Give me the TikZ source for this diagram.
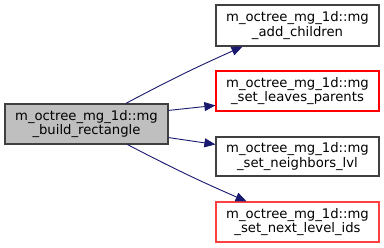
\documentclass[tikz,border=0pt]{standalone}
\usepackage{fontspec}
\setmainfont{DejaVu Sans}
\usetikzlibrary{arrows.meta,calc}
\definecolor{edgeblue}{HTML}{191970}
\definecolor{boxgray}{HTML}{BFBFBF}
\definecolor{boxborder}{HTML}{404040}
\definecolor{lightred}{HTML}{FF4040}
\tikzset{
  fn/.style={draw=boxborder, line width=1.2pt, minimum width=163pt, minimum height=40pt,
    align=center, inner sep=0pt, font=\fontsize{13.2}{14.5}\selectfont},
  curfn/.style={fn, fill=boxgray},
  redfn/.style={fn, draw=red},
  call/.style={draw=edgeblue, line width=0.9pt, -{Triangle[length=11pt,width=9pt]}}
}
\begin{document}
\begin{tikzpicture}[x=1pt,y=-1pt]
\useasboundingbox (0,0) rectangle (384,248);
\node[curfn] (L) at (86.5,124) {m\_octree\_mg\_1d::mg\\\_build\_rectangle};
\node[fn, minimum height=41pt] (A) at (297.5,25.5) {m\_octree\_mg\_1d::mg\\\_add\_children};
\node[redfn] (B) at (297.5,91) {m\_octree\_mg\_1d::mg\\\_set\_leaves\_parents};
\node[fn, minimum height=39pt] (C) at (297.5,156.5) {m\_octree\_mg\_1d::mg\\\_set\_neighbors\_lvl};
\node[redfn, draw=lightred] (D) at (297.5,222) {m\_octree\_mg\_1d::mg\\\_set\_next\_level\_ids};
\coordinate (la) at ($(L.north west)!0.74!(L.north east)$);
\coordinate (ld) at ($(L.south west)!0.75!(L.south east)$);
\coordinate (lb) at ($(L.north east)!0.17!(L.south east)$);
\coordinate (lc) at ($(L.north east)!0.83!(L.south east)$);
\coordinate (ta) at ($(A.south west)!0.165!(A.south east)$);
\coordinate (td) at ($(D.north west)!0.19!(D.north east)$);
\coordinate (tb) at ($(B.north west)!0.85!(B.south west)$);
\coordinate (tc) at ($(C.north west)!0.2!(C.south west)$);
\draw[call] (la) to[bend left=2] (ta);
\draw[call] (lb) -- (tb);
\draw[call] (lc) -- (tc);
\draw[call] (ld) to[bend right=2] (td);
\end{tikzpicture}
\end{document}
